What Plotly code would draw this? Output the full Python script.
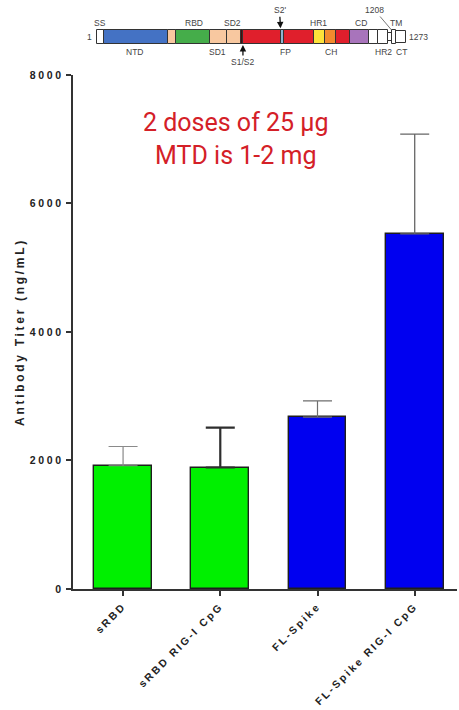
import plotly.graph_objects as go

# ---------------- main bar chart data ----------------
categories = ["sRBD", "sRBD RIG-I CpG", "FL-Spike", "FL-Spike RIG-I CpG"]
titers = [1918, 1891, 2675, 5526]
errors_up = [300, 622, 253, 1555]
bar_colors = ["#00f000", "#00f000", "#0000f0", "#0000f0"]
err_colors = ["#8a8a8a", "#2e2e2e", "#6e6e6e", "#666666"]
err_widths = [1.2, 2.2, 1.2, 1.3]
y_ticks = [0, 2000, 4000, 6000, 8000]
y_ticklabels = ["0", "2000", "4000", "6000", "8000"]

# ---------------- spike protein domain diagram (positions as drawn) ----------------
dom_starts = [1, 29, 294, 324, 466, 535, 596, 603, 758, 771, 897, 939, 987, 1043, 1121, 1158, 1201, 1218, 1232]
dom_ends = [29, 294, 324, 466, 535, 596, 603, 758, 771, 897, 939, 987, 1043, 1121, 1158, 1201, 1218, 1232, 1273]
dom_colors = ["#ffffff", "#4472c4", "#f8c8a0", "#45ad4a", "#f8c8a0", "#f8c8a0", "#4a0c0c",
              "#e01f2c", "#8fb4d2", "#e01f2c", "#fde23a", "#f28a2e", "#e01f2c", "#a874bb",
              "#ffffff", "#ffffff", "#ffffff", "#ffffff", "#ffffff"]
dom_heights = [1, 1, 1, 1, 1, 1, 1, 1, 1, 1, 1, 1, 1, 1, 1, 1, 0.55, 1, 0.85]

top_labels = ["SS", "RBD", "SD2", "HR1", "CD", "TM"]
top_pos = [12, 400, 558, 915, 1087, 1232]
bottom_labels = ["NTD", "SD1", "FP", "CH", "HR2", "CT"]
bottom_pos = [156, 495, 778, 964, 1183, 1254]

fig = go.Figure()

for i, cat in enumerate(categories):
    fig.add_trace(go.Bar(
        x=[cat], y=[titers[i]],
        width=0.595,
        marker=dict(color=bar_colors[i], line=dict(color="#1e1e1e", width=1.4)),
        error_y=dict(type="data", symmetric=False, array=[errors_up[i]], arrayminus=[0],
                     color=err_colors[i], thickness=err_widths[i], width=14.5),
        showlegend=False, hoverinfo="skip",
        xaxis="x", yaxis="y",
    ))

# domain diagram drawn as horizontal bars on a second axis pair
fig.add_trace(go.Bar(
    y=[0] * len(dom_starts),
    x=[e - s for s, e in zip(dom_starts, dom_ends)],
    base=dom_starts,
    width=dom_heights,
    orientation="h",
    marker=dict(color=dom_colors, line=dict(color="#333333", width=1)),
    showlegend=False, hoverinfo="skip",
    xaxis="x2", yaxis="y2",
))

lab_font = dict(family="Liberation Sans, Arial, sans-serif", size=8.5, color="#444444")
annotations = []
for t, p in zip(top_labels, top_pos):
    annotations.append(dict(x=p, y=1.0, xref="x2", yref="y2", text=t, showarrow=False,
                            font=lab_font, xanchor="center", yanchor="middle"))
for t, p in zip(bottom_labels, bottom_pos):
    annotations.append(dict(x=p, y=-1.07, xref="x2", yref="y2", text=t, showarrow=False,
                            font=lab_font, xanchor="center", yanchor="middle"))
annotations += [
    dict(x=dom_starts[0], y=0, xref="x2", yref="y2", text="1", showarrow=False, font=lab_font,
         xanchor="right", yanchor="middle", xshift=-3),
    dict(x=dom_ends[-1], y=0, xref="x2", yref="y2", text="1273", showarrow=False, font=lab_font,
         xanchor="left", yanchor="middle", xshift=1),
    dict(x=757, y=0.62, xref="x2", yref="y2", text="S2'", showarrow=True, font=lab_font,
         arrowhead=2, arrowsize=1, arrowwidth=1.3, arrowcolor="#111111", ax=-1, ay=-18),
    dict(x=602, y=-0.57, xref="x2", yref="y2", text="S1/S2", showarrow=True, font=lab_font,
         arrowhead=2, arrowsize=1, arrowwidth=1.3, arrowcolor="#111111", ax=0, ay=17),
    dict(x=1215, y=0.5, xref="x2", yref="y2", text="1208", showarrow=True, font=lab_font,
         arrowhead=0, arrowwidth=0.8, arrowcolor="#555555", ax=-17, ay=-20),
    dict(x=1.16, y=7010, xref="x", yref="y", text="2 doses of 25 µg<br>MTD is 1-2 mg",
         showarrow=False, font=dict(family="Roboto", size=25, color="#d42027"),
         xanchor="center", yanchor="middle", align="center"),
]

tick_font = dict(family="Liberation Sans, Arial, sans-serif", size=10.5, color="#222222", weight="bold")

fig.update_layout(
    width=459, height=710,
    margin=dict(l=73, r=2, t=0, b=121),
    paper_bgcolor="white", plot_bgcolor="white",
    barmode="overlay",
    bargap=0,
    annotations=annotations,
    xaxis=dict(
        type="category", range=[-0.515, 3.435], automargin=False,
        showline=True, linecolor="#333333", linewidth=2,
        ticks="outside", ticklen=5, tickwidth=2, tickcolor="#333333",
        tickangle=-45, tickfont=tick_font, showgrid=False, zeroline=False,
        anchor="y",
    ),
    yaxis=dict(
        domain=[0, 0.8727], range=[0, 8000], automargin=False,
        tickmode="array", tickvals=y_ticks, ticktext=y_ticklabels,
        showline=True, linecolor="#333333", linewidth=2,
        ticks="outside", ticklen=5, tickwidth=2, tickcolor="#333333",
        tickfont=tick_font, showgrid=False, zeroline=False,
        title=dict(text="Antibody Titer (ng/mL)", standoff=13,
                   font=dict(family="Liberation Sans, Arial, sans-serif", size=12,
                             color="#222222", weight="bold")),
        anchor="x",
    ),
    xaxis2=dict(domain=[0, 1], range=[-99, 1485], visible=False, anchor="y2", automargin=False),
    yaxis2=dict(domain=[0.8896, 1], range=[-2.0, 2.643], visible=False, anchor="x2", automargin=False),
)

post = """
var s=document.createElement('style');
s.textContent='.ytick text,.ytitle{letter-spacing:2.7px}.xtick text{letter-spacing:2.35px}';
document.head.appendChild(s);
"""

fig.write_html("out.html", post_script=post)
